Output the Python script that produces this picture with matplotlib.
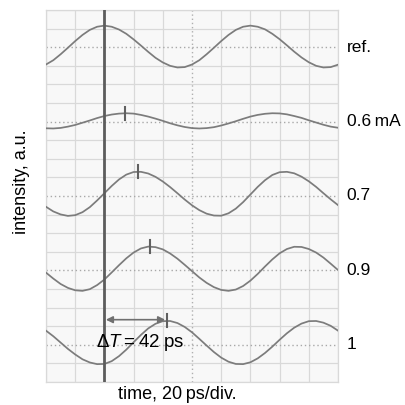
import numpy as np
import matplotlib.pyplot as plt

plt.rcParams['font.family'] = ['Liberation Sans', 'DejaVu Sans']
plt.rcParams['mathtext.fontset'] = 'custom'
plt.rcParams['mathtext.rm'] = 'Liberation Sans'
plt.rcParams['mathtext.it'] = 'Liberation Sans:italic'

# time in divisions (20 ps/div), read every quarter division
t_div = np.arange(41) * 0.25

# trace heights in vertical divisions (0 = bottom, 20 = top of screen)
ref = [17.07, 17.30, 17.62, 17.97, 18.33, 18.66, 18.93, 19.10, 19.16,
       19.10, 18.95, 18.72, 18.42, 18.09, 17.75, 17.43, 17.18, 17.00, 16.91,
       16.93, 17.07, 17.30, 17.62, 17.97, 18.33, 18.66, 18.93, 19.10, 19.16,
       19.10, 18.96, 18.72, 18.43, 18.10, 17.76, 17.45, 17.19, 17.00, 16.91,
       16.93, 17.06]
i06 = [13.64, 13.63, 13.66, 13.73, 13.82, 13.94, 14.06, 14.19, 14.30,
       14.38, 14.43, 14.45, 14.43, 14.36, 14.27, 14.16, 14.04, 13.91, 13.80,
       13.71, 13.65, 13.63, 13.65, 13.70, 13.79, 13.90, 14.02, 14.15, 14.27,
       14.36, 14.42, 14.45, 14.44, 14.39, 14.30, 14.20, 14.07, 13.95, 13.83,
       13.73, 13.67]
i07 = [9.42, 9.17, 9.01, 8.93, 8.97, 9.13, 9.40, 9.76, 10.15,
       10.54, 10.89, 11.15, 11.29, 11.30, 11.21, 11.03, 10.78, 10.48, 10.15,
       9.81, 9.50, 9.24, 9.05, 8.95, 8.94, 9.07, 9.32, 9.67, 10.08,
       10.49, 10.85, 11.13, 11.28, 11.30, 11.22, 11.04, 10.79, 10.49, 10.15,
       9.82, 9.51]
i09 = [5.88, 5.56, 5.27, 5.06, 4.93, 4.90, 4.99, 5.21, 5.51,
       5.89, 6.28, 6.65, 6.96, 7.18, 7.28, 7.25, 7.13, 6.91, 6.63,
       6.30, 5.96, 5.62, 5.33, 5.10, 4.95, 4.90, 4.97, 5.16, 5.45,
       5.81, 6.21, 6.59, 6.92, 7.15, 7.27, 7.26, 7.15, 6.96, 6.69,
       6.36, 6.02]
i10 = [2.76, 2.46, 2.12, 1.78, 1.48, 1.22, 1.05, 0.96, 0.97,
       1.12, 1.39, 1.74, 2.14, 2.53, 2.88, 3.13, 3.27, 3.28, 3.17,
       2.96, 2.67, 2.32, 1.96, 1.61, 1.31, 1.09, 0.97, 0.96, 1.06,
       1.27, 1.56, 1.90, 2.27, 2.62, 2.92, 3.14, 3.27, 3.28, 3.19,
       3.02, 2.76]

traces = [ref, i06, i07, i09, i10]
labels = ['ref.', '0.6\u2009mA', '0.7', '0.9', '1']
baselines = [18, 14, 10, 6, 2]

# peak markers of the current traces
peak_x = [2.72, 3.14, 3.56, 4.13]
peak_y = [14.45, 11.31, 7.28, 3.29]

t_ref = 2.0        # cursor on the reference peak
dT_label = '\u0394$\\mathit{T}$\u2009=\u200942\u2009ps'

fig = plt.figure(figsize=(4.05, 4.05), dpi=100)
ax = fig.add_axes([0.1136, 0.0568, 0.721, 0.9185])
ax.set_facecolor('#f8f8f8')
ax.set_xlim(0, 10)
ax.set_ylim(0, 20)

for xv in range(11):
    if xv != 5:
        ax.axvline(xv, color='#d9d9d9', lw=0.9, zorder=1)
for yv in range(21):
    if yv not in baselines:
        ax.axhline(yv, color='#d9d9d9', lw=0.9, zorder=1)
ax.axvline(5, color='#b0b0b0', lw=1.0, ls=(0, (1, 2)), zorder=1)
for b in baselines:
    ax.axhline(b, color='#a8a8a8', lw=1.0, ls=(0, (1, 2)), zorder=1)

for tr in traces:
    ax.plot(t_div, tr, color='#7c7c7c', lw=1.25, zorder=3)

for px, py in zip(peak_x, peak_y):
    ax.plot([px, px], [py - 0.35, py + 0.35], color='#606060', lw=1.5, zorder=4)

ax.axvline(t_ref, color='#5c5c5c', lw=2.0, zorder=5)

ax.annotate('', xy=(t_ref + 0.05, 3.35), xytext=(peak_x[-1] - 0.05, 3.35),
            arrowprops=dict(arrowstyle='<|-|>', color='#707070', lw=1.2,
                            mutation_scale=10, shrinkA=0, shrinkB=0), zorder=6)
ax.text(1.72, 2.1, dT_label, fontsize=13.5, va='center', ha='left', zorder=6)

for lab, b in zip(labels, baselines):
    ax.text(10.3, b, lab, fontsize=12.5, va='center', ha='left', clip_on=False)

ax.set_xticks([])
ax.set_yticks([])
for s in ax.spines.values():
    s.set_color('#d9d9d9')
    s.set_linewidth(0.9)

fig.text(0.052, 0.55, 'intensity, a.u.', rotation=90, fontsize=13,
         ha='center', va='center')
fig.text(0.437, 0.027, 'time, 20\u2009ps/div.', fontsize=13,
         ha='center', va='center')

fig.savefig('out.png', dpi=100)
